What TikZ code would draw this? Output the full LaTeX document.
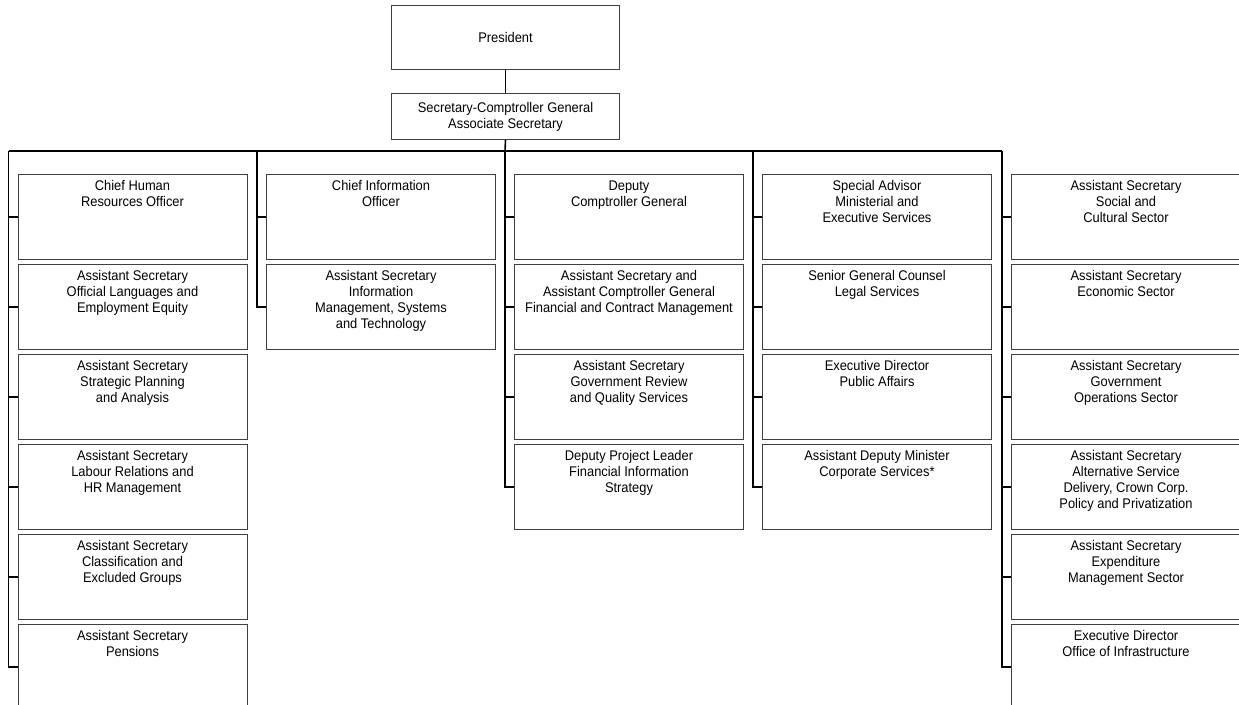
\documentclass[tikz,border=0pt]{standalone}
\usepackage{fontspec}
\setmainfont{Liberation Sans}[FakeStretch=0.92]
\newcommand\boxtext[1]{\parbox[c][83pt][t]{227pt}{\centering\rule{0pt}{15pt}#1\par}}
\begin{document}
\begin{tikzpicture}[x=1pt,y=-1pt,
  font=\fontsize{14}{16}\selectfont,
  orgbox/.style={draw=black!75, line width=1pt, anchor=north west, inner sep=1pt,
     minimum width=229pt, minimum height=83pt},
  topbox/.style={draw=black!75, line width=1pt, anchor=north west, inner sep=0pt,
     minimum width=228pt, align=center},
  conn/.style={line width=1.6pt, black}]
\useasboundingbox (0,0) rectangle (1239,704);

% top boxes
\node[topbox, minimum height=64pt] (pres) at (391,5) {President};
\node[topbox, minimum height=46pt] (sec) at (391,93) {Secretary-Comptroller General\\Associate Secretary};

% bar coordinates
\coordinate (c1) at (8.5,151);
\coordinate (c2) at (257,151);
\coordinate (c3) at (505,151);
\coordinate (c4) at (753,151);
\coordinate (c5) at (1002,151);

% column 1
\node[orgbox] (a1) at (17.5,174) {\boxtext{Chief Human\\Resources Officer}};
\node[orgbox] (a2) at (17.5,264) {\boxtext{Assistant Secretary\\Official Languages and\\Employment Equity}};
\node[orgbox] (a3) at (17.5,354) {\boxtext{Assistant Secretary\\Strategic Planning\\and Analysis}};
\node[orgbox] (a4) at (17.5,444) {\boxtext{Assistant Secretary\\Labour Relations and\\HR Management}};
\node[orgbox] (a5) at (17.5,534) {\boxtext{Assistant Secretary\\Classification and\\Excluded Groups}};
\node[orgbox] (a6) at (17.5,624) {\boxtext{Assistant Secretary\\Pensions}};

% column 2
\node[orgbox] (b1) at (266,174) {\boxtext{Chief Information\\Officer}};
\node[orgbox] (b2) at (266,264) {\boxtext{Assistant Secretary\\Information\\Management, Systems\\and Technology}};

% column 3
\node[orgbox] (d1) at (514,174) {\boxtext{Deputy\\Comptroller General}};
\node[orgbox] (d2) at (514,264) {\boxtext{Assistant Secretary and\\Assistant Comptroller General\\Financial and Contract Management}};
\node[orgbox] (d3) at (514,354) {\boxtext{Assistant Secretary\\Government Review\\and Quality Services}};
\node[orgbox] (d4) at (514,444) {\boxtext{Deputy Project Leader\\Financial Information\\Strategy}};

% column 4
\node[orgbox] (e1) at (762,174) {\boxtext{Special Advisor\\Ministerial and\\Executive Services}};
\node[orgbox] (e2) at (762,264) {\boxtext{Senior General Counsel\\Legal Services}};
\node[orgbox] (e3) at (762,354) {\boxtext{Executive Director\\Public Affairs}};
\node[orgbox] (e4) at (762,444) {\boxtext{Assistant Deputy Minister\\Corporate Services*}};

% column 5
\node[orgbox] (f1) at (1011,174) {\boxtext{Assistant Secretary\\Social and\\Cultural Sector}};
\node[orgbox] (f2) at (1011,264) {\boxtext{Assistant Secretary\\Economic Sector}};
\node[orgbox] (f3) at (1011,354) {\boxtext{Assistant Secretary\\Government\\Operations Sector}};
\node[orgbox] (f4) at (1011,444) {\boxtext{Assistant Secretary\\Alternative Service\\Delivery, Crown Corp.\\Policy and Privatization}};
\node[orgbox] (f5) at (1011,534) {\boxtext{Assistant Secretary\\Expenditure\\Management Sector}};
\node[orgbox] (f6) at (1011,624) {\boxtext{Executive Director\\Office of Infrastructure}};

% connectors
\draw[conn] (pres.south) -- (sec.north);
\draw[conn] (sec.south) -- (c3);
\draw[conn, line width=1.2pt] (c1) -- (c5);
\foreach \n in {a1,a2,a3,a4,a5,a6} \draw[conn] (c1) |- (\n.west);
\foreach \n in {b1,b2} \draw[conn] (c2) |- (\n.west);
\foreach \n in {d1,d2,d3,d4} \draw[conn] (c3) |- (\n.west);
\foreach \n in {e1,e2,e3,e4} \draw[conn] (c4) |- (\n.west);
\foreach \n in {f1,f2,f3,f4,f5,f6} \draw[conn] (c5) |- (\n.west);
\end{tikzpicture}
\end{document}
